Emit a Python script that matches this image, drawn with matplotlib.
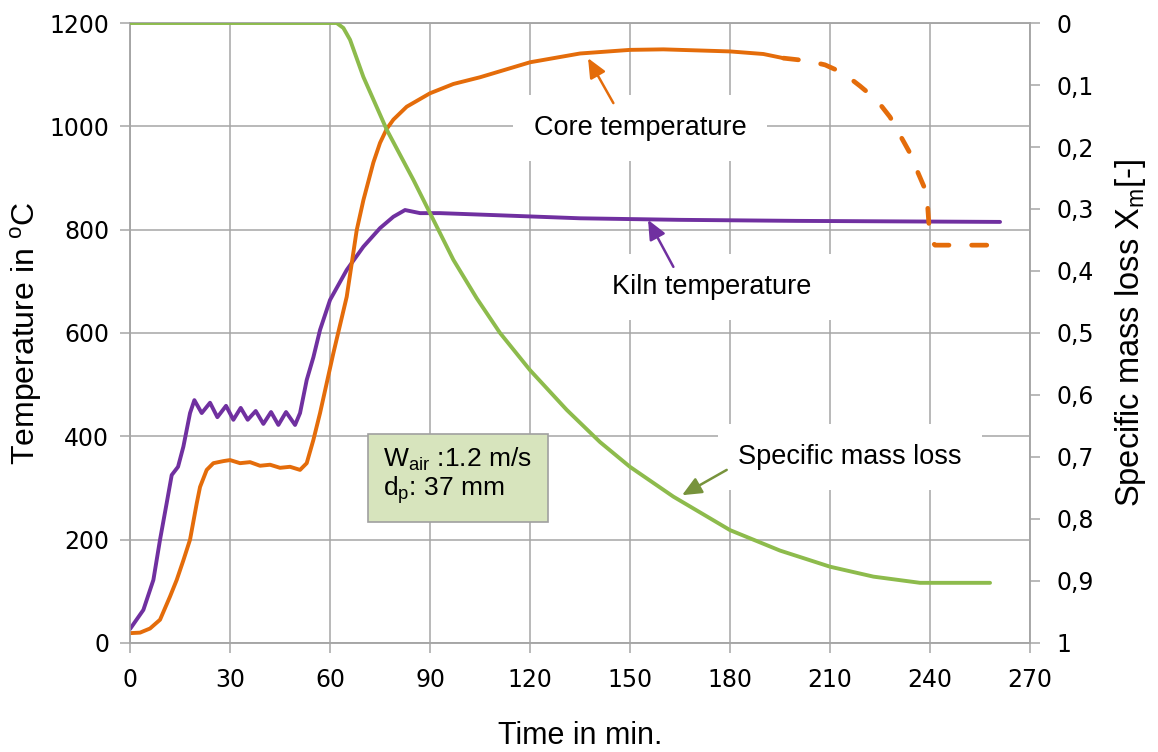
import numpy as np
import matplotlib
matplotlib.use("Agg")
import matplotlib.pyplot as plt

# ---- data ----
kiln_t = [0, 4, 7, 9, 11, 12.5, 14.4, 16, 18, 19.3, 21.5, 24, 26.2, 28.8, 31, 33.2, 35.3, 37.7,
          40, 42.3, 44.5, 46.8, 49.5, 51, 53, 55, 57, 60, 65, 70, 75, 79, 82.5, 87, 93, 110,
          135, 165, 200, 230, 261]
kiln_T = [27, 64, 122, 200, 271, 325, 341, 380, 445, 470, 445, 465, 437, 459, 432, 455, 432, 449,
          424, 447, 422, 447, 422, 445, 509, 553, 606, 664, 722, 767, 803, 825, 838, 832, 832, 828,
          822, 819, 817, 816, 815]

core_t = [0, 3, 6, 9, 12, 14, 16, 18, 20, 21, 23, 25, 28, 30, 33, 36, 39, 42, 45, 48, 51, 53,
          55, 57, 61, 65, 68, 70, 73, 75, 77, 79, 83, 90, 97, 105, 120, 135, 150, 160, 165, 180,
          190, 196]
core_T = [19, 20, 28, 45, 90, 122, 160, 200, 270, 302, 335, 348, 352, 354, 348, 350, 343, 345,
          339, 341, 335, 348, 393, 445, 561, 670, 799, 857, 930, 968, 995, 1013, 1038, 1064, 1082,
          1095, 1124, 1141, 1148, 1149, 1148, 1145, 1140, 1132]

# extrapolated (dashed) end of the core temperature
core_dash_t = [196, 203, 208.5, 214, 219, 224, 228, 231, 234, 236.4, 239, 240, 241.5, 261]
core_dash_T = [1132, 1127, 1119, 1103, 1078, 1051, 1018, 983, 948, 910, 871, 780, 770, 770]

mass_t = [0, 62, 64, 66, 70, 77, 85, 89, 97, 104, 111, 120, 131, 141, 150, 163, 180, 195, 210,
          223, 237, 258]
mass_X = [0, 0, 0.008, 0.027, 0.087, 0.172, 0.253, 0.296, 0.382, 0.444, 0.5, 0.56, 0.624, 0.676,
          0.716, 0.764, 0.818, 0.851, 0.877, 0.893, 0.903, 0.903]

x_ticks = list(range(0, 271, 30))
left_ticks = list(range(0, 1201, 200))
right_ticks = [round(v * 0.1, 1) for v in range(11)]
right_labels = ["0" if v == 0 else "1" if v == 1 else ("%.1f" % v).replace(".", ",") for v in right_ticks]

c_orange = "#E46C0A"
c_purple = "#7030A0"
c_green = "#8DBB4C"
c_grid = "#A6A6A6"

fig = plt.figure(figsize=(11.58, 7.52), dpi=100)
ax = fig.add_axes([0.1123, 0.145, 0.7772, 0.8244])
ax2 = ax.twinx()

ax.set_xlim(0, 270)
ax.set_ylim(0, 1200)
ax2.set_ylim(1, 0)

ax.set_xticks(x_ticks)
ax.set_yticks(left_ticks)
ax2.set_yticks(right_ticks)
ax2.set_yticklabels(right_labels)

ax.grid(True, color=c_grid, linewidth=1.1)
ax.set_axisbelow(True)
for a in (ax, ax2):
    for s in a.spines.values():
        s.set_color(c_grid)
        s.set_linewidth(1.1)
ax.tick_params(axis="both", colors=c_grid, labelcolor="black", labelsize=17, length=7, width=1.1)
ax.tick_params(axis="x", pad=11)
ax.tick_params(axis="y", pad=8)
ax2.tick_params(axis="y", colors=c_grid, labelcolor="black", labelsize=17, length=7, width=1.1, pad=12)
for lab in ax.get_xticklabels() + ax.get_yticklabels() + ax2.get_yticklabels():
    lab.set_family("DejaVu Sans")

ax.plot(kiln_t, kiln_T, color=c_purple, lw=2.8, solid_capstyle="round", zorder=3)
ax.plot(core_t, core_T, color=c_orange, lw=2.8, solid_capstyle="round", zorder=3)
ax.plot(core_dash_t, core_dash_T, color=c_orange, lw=3.4, dashes=(3.2, 4.8),
        dash_capstyle="round", zorder=3)
ax2.plot(mass_t, mass_X, color=c_green, lw=2.8, solid_capstyle="round", zorder=3)

ax.set_xlabel("Time in min.", family="Liberation Sans", fontsize=22, labelpad=21)
ax.set_ylabel("Temperature in $^\\mathregular{o}$C", family="Liberation Sans", fontsize=23, labelpad=4)
ax2.set_ylabel("Specific mass loss X$_\\mathregular{m}$[-]", family=["Liberation Sans Narrow", "Liberation Sans"],
               fontsize=23.5, labelpad=14)

# labels with white background (hide the grid behind them)
box = dict(boxstyle="square,pad=0.75", facecolor="white", edgecolor="none")
label_kw = dict(transform=ax.transData, ha="center", va="center", fontsize=19.5,
                family="Liberation Sans", bbox=box, zorder=5)
ax2.text(153, 997, "Core temperature", **label_kw)
ax2.text(174.6, 689, "Kiln temperature", **label_kw)
ax2.text(216, 360, "Specific mass loss", **label_kw)

# arrows
arrows = [((145, 1045), (137.4, 1132), c_orange),
          ((163, 728), (155.4, 819), c_purple),
          ((179, 335), (165.6, 286), "#77933C")]
for tail, tip, col in arrows:
    ax2.annotate("", xy=tip, xytext=tail, xycoords=ax.transData, textcoords=ax.transData, zorder=6,
                 arrowprops=dict(arrowstyle="-|>,head_length=0.9,head_width=0.4", color=col, lw=1.8,
                                 mutation_scale=13, shrinkA=0, shrinkB=0))

ax2.text(76, 323, "W$_\\mathregular{air}$ :1.2 m/s\nd$_\\mathregular{p}$: 37 mm", transform=ax.transData,
         ha="left", va="center", fontsize=19, family="Liberation Sans", linespacing=1.05, zorder=5,
         bbox=dict(boxstyle="square,pad=0.6", facecolor="#D7E4BD", edgecolor="#A0A0A0", lw=1.2))

fig.savefig("out.png", dpi=100)
